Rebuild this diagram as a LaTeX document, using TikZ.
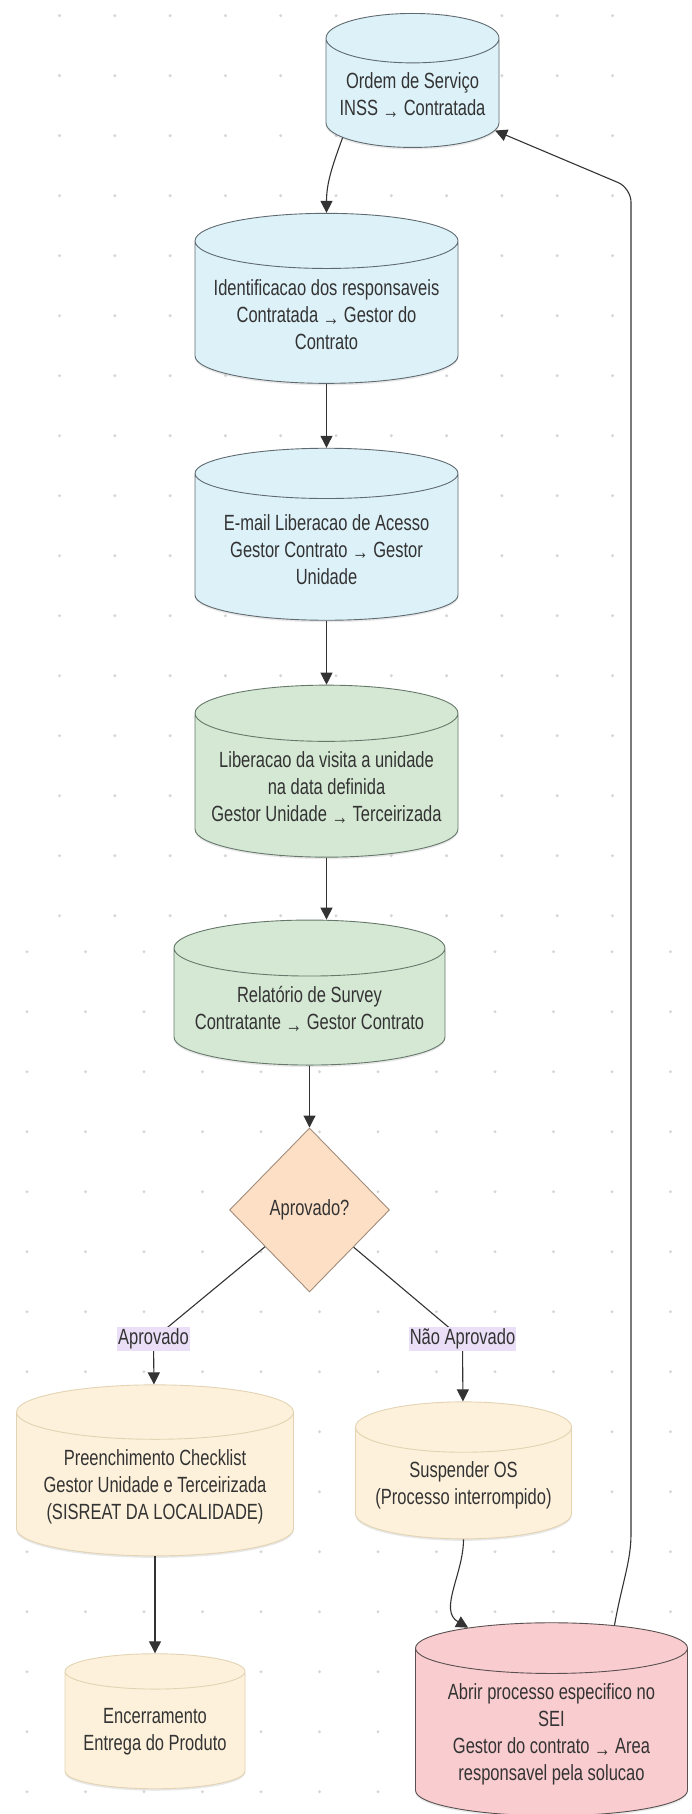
\documentclass[tikz,border=0pt]{standalone}
\usepackage{fontspec}
\setmainfont{Liberation Sans}[FakeStretch=0.75]
\usepackage{xcolor}
\usepackage{tikz}
\usetikzlibrary{shapes.geometric, arrows.meta, positioning, shadows}
\definecolor{blueFill}{HTML}{DDF1F9}
\definecolor{blueLine}{HTML}{5F6B70}
\definecolor{greenFill}{HTML}{D5E8D4}
\definecolor{greenLine}{HTML}{66786A}
\definecolor{peachFill}{HTML}{FDDFC6}
\definecolor{peachLine}{HTML}{A08C7A}
\definecolor{creamFill}{HTML}{FDF1DB}
\definecolor{creamLine}{HTML}{E2D3B2}
\definecolor{redFill}{HTML}{F9CCCF}
\definecolor{redLine}{HTML}{5A5050}
\definecolor{tagFill}{HTML}{EADFF7}
\definecolor{txt}{HTML}{333333}
\definecolor{dotc}{HTML}{D6D6D6}
\newcommand{\flowto}{\raisebox{-.12em}{→}}
\tikzstyle{store} = [cylinder, shape border rotate=90, aspect=0.24, draw=blueLine, fill=blueFill, text=txt, align=center, inner sep=2pt, line width=0.9pt, font=\fontsize{22}{27}\selectfont, drop shadow={opacity=0.18, shadow xshift=0pt, shadow yshift=-2pt}]
\tikzstyle{decision} = [diamond, draw=peachLine, fill=peachFill, text=txt, inner sep=0pt, minimum width=160pt, minimum height=164pt, line width=0.9pt, font=\fontsize{22}{27}\selectfont]
\tikzstyle{tag} = [fill=tagFill, text=txt, inner xsep=1pt, inner ysep=2pt, font=\fontsize{22}{27}\selectfont]
\tikzstyle{arrow} = [draw=txt, line width=1.1pt, -{Triangle[length=12pt, width=12pt]}]

\begin{document}
\begin{tikzpicture}[x=1pt, y=1pt]
    \useasboundingbox (0,0) rectangle (691,-1814);
    % Dotted canvas
    \foreach \i in {0,...,10} \foreach \j in {0,...,15}
        \fill[dotc] (59.5+55.3*\i, -15.7-60*\j) circle (1.7);
    \foreach \i in {0,...,11} \foreach \j in {0,...,14}
        \fill[dotc] (27+58.5*\i, -951.7-60*\j) circle (1.7);

    % Blue stage
    \node[store, aspect=0.33, minimum width=173pt, minimum height=134pt, anchor=north] (os) at (412.5,-13) {Ordem de Serviço\\INSS \flowto{} Contratada};
    \node[store, minimum width=263pt, minimum height=170pt, below=65pt of os, xshift=-86pt] (ident) {Identificacao dos responsaveis\\Contratada \flowto{} Gestor do\\Contrato};
    \node[store, minimum width=263pt, minimum height=172pt, below=64pt of ident] (email) {E-mail Liberacao de Acesso\\Gestor Contrato \flowto{} Gestor\\Unidade};

    % Green stage
    \node[store, draw=greenLine, fill=greenFill, minimum width=263pt, minimum height=172pt, below=64pt of email] (visit) {Liberacao da visita a unidade\\na data definida\\Gestor Unidade \flowto{} Terceirizada};
    \node[store, draw=greenLine, fill=greenFill, minimum width=271pt, minimum height=145pt, below=62pt of visit, xshift=-17pt] (survey) {Relatório de Survey\\Contratante \flowto{} Gestor Contrato};

    % Decision
    \node[decision, below=62pt of survey] (dec) {Aprovado?};
    \coordinate[below left=129pt and 156pt of dec.center] (yespt);
    \coordinate[below right=129pt and 153pt of dec.center] (nopt);

    % Outcomes
    \node[store, draw=creamLine, fill=creamFill, minimum width=277pt, minimum height=171pt, below=92pt of dec, xshift=-154.5pt] (fill) {Preenchimento Checklist\\Gestor Unidade e Terceirizada\\(SISREAT DA LOCALIDADE)};
    \node[store, aspect=0.28, draw=creamLine, fill=creamFill, minimum width=216pt, minimum height=137pt, below=109pt of dec, xshift=154pt] (halt) {Suspender OS\\(Processo interrompido)};
    \node[store, draw=creamLine, fill=creamFill, minimum width=180pt, minimum height=135pt, below=97pt of fill] (close) {Encerramento\\Entrega do Produto};
    \node[store, draw=redLine, fill=redFill, minimum width=272pt, minimum height=193pt, below=83pt of halt, xshift=88pt] (sei) {Abrir processo especifico no\\SEI\\Gestor do contrato \flowto{} Area\\responsavel pela solucao};

    \coordinate (back) at (631,-1520);
    \coordinate (backtop) at (631,-188);

    % Connections
    \draw[arrow] (os.211) to[out=-110, in=90] (ident);
    \draw[arrow] (ident) -- (email);
    \draw[arrow] (email) -- (visit);
    \draw[arrow] (visit) -- (visit |- survey.north);
    \draw[arrow] (survey) -- (dec);
    \draw[arrow] (dec) -- (yespt) node[tag] (yes) {Aprovado} -- (fill);
    \draw[arrow] (dec) -- (nopt) node[tag] (no) {Não Aprovado} -- (halt);
    \draw[arrow] (fill) -- (close);
    \draw[arrow] (halt) to[out=-90, in=150] (sei.128);
    \draw[arrow, rounded corners=14pt] (sei.60) to[out=80, in=-90] (back) -- (backtop) -- (os);

\end{tikzpicture}
\end{document}
